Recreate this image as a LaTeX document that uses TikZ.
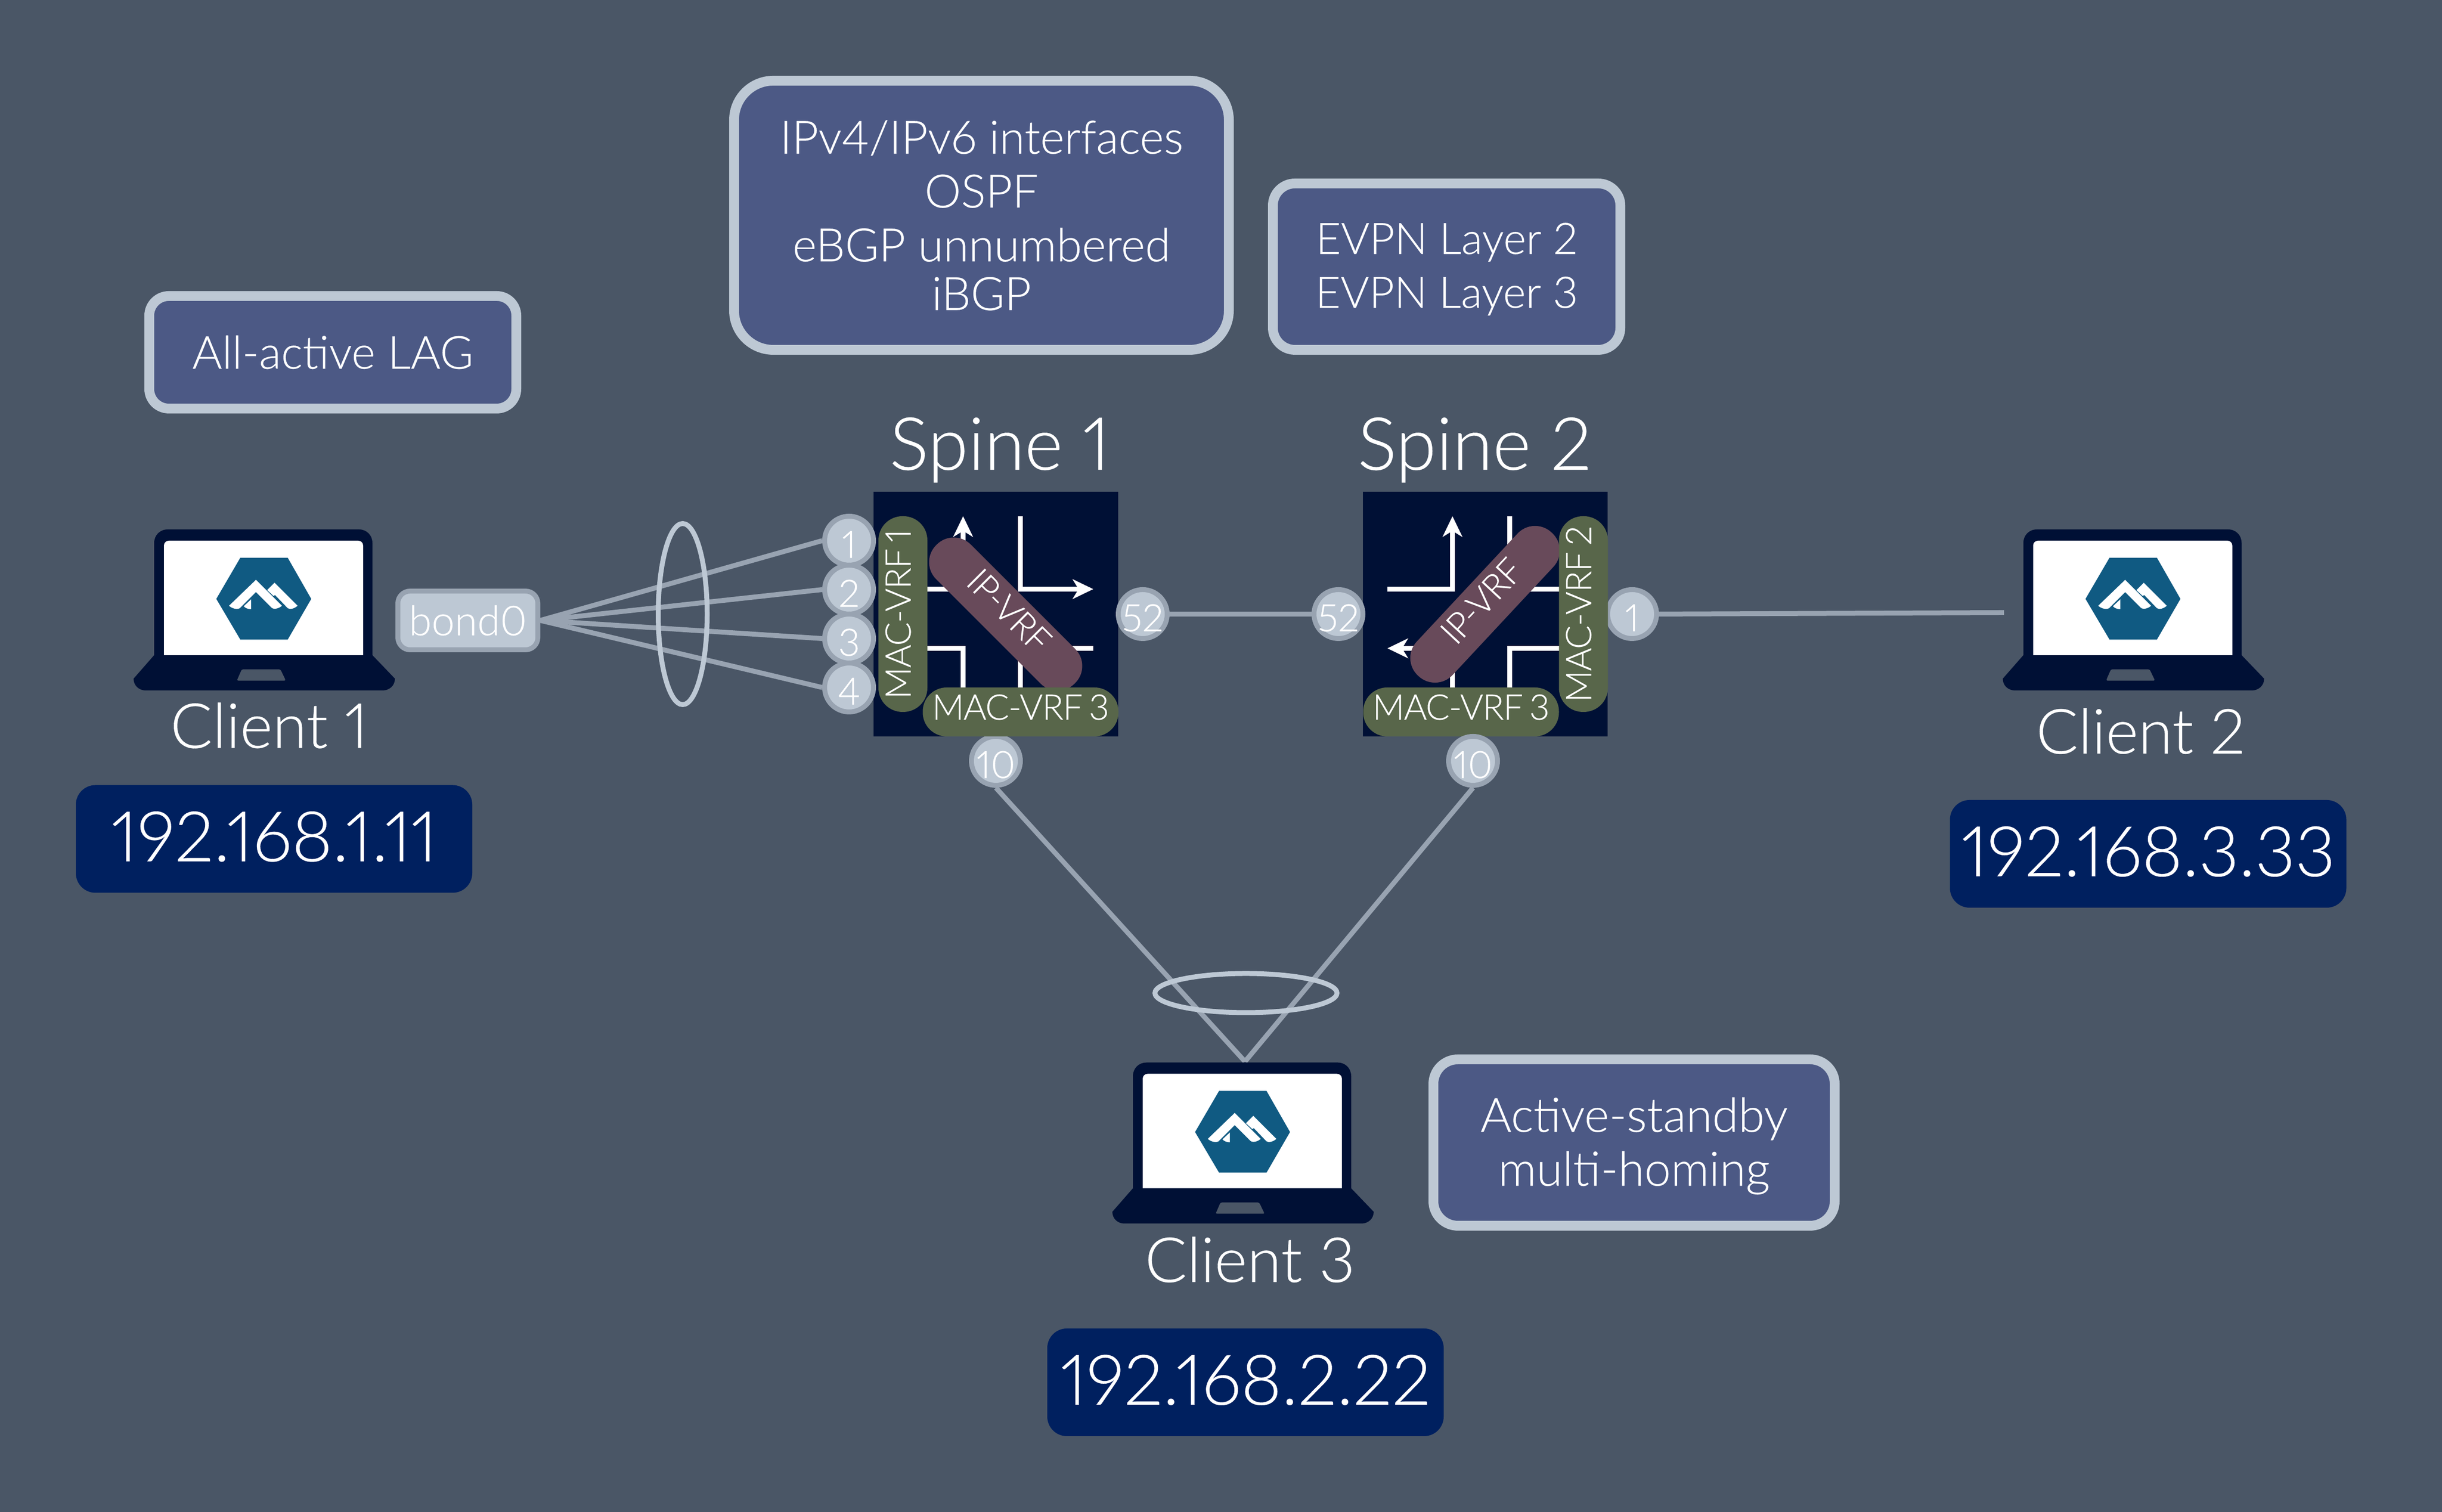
\documentclass[tikz,border=0pt]{standalone}
\usepackage{fontspec}
\setmainfont{Lato Light}[Numbers=Proportional, FakeBold=.25, AutoFakeBold=.25]
\newfontfamily\tightfont{Lato Light}[Numbers=Proportional, LetterSpace=-2, WordSpace=.7, FakeBold=.25]
\usetikzlibrary{arrows.meta, backgrounds}

\definecolor{slatebg}{HTML}{4A5666}
\definecolor{navybox}{HTML}{001035}
\definecolor{addrblue}{HTML}{00205F}
\definecolor{notefill}{HTML}{4C5985}
\definecolor{palegrey}{HTML}{BDC8D4}
\definecolor{midgrey}{HTML}{98A3B1}
\definecolor{vrfgreen}{HTML}{58664A}
\definecolor{vrfplum}{HTML}{684A5A}
\definecolor{hexblue}{HTML}{105A82}

\tikzstyle{spinebox} = [rectangle, minimum size=5cm, inner sep=0, fill=navybox]
\tikzstyle{macvrf} = [rectangle, rounded corners=.49cm, minimum width=4cm, minimum height=1cm, inner sep=0, fill=vrfgreen, text=white, text depth=5.7pt, font=\tightfont\fontsize{20.5}{24}\selectfont]
\tikzstyle{ipvrf} = [macvrf, fill=vrfplum]
\tikzstyle{port} = [circle, minimum size=1cm, inner sep=-4pt, line width=1mm, draw=midgrey, fill=palegrey, text=white, text height=20pt, text depth=0pt, font=\fontsize{22}{24}\selectfont]
\tikzstyle{bondbox} = [rectangle, rounded corners=.25cm, minimum width=2.86cm, minimum height=1.2cm, inner sep=0, line width=1mm, draw=midgrey, fill=palegrey, text=white, font=\fontsize{24}{28}\selectfont]
\tikzstyle{note} = [rectangle, line width=2mm, draw=palegrey, fill=notefill, text=white, align=center]
\tikzstyle{addr} = [rectangle, rounded corners=.4cm, minimum width=8.1cm, minimum height=2.2cm, inner sep=0, fill=addrblue, text=white, text depth=3pt, font=\fontsize{40.5}{48}\selectfont]
\tikzstyle{devname} = [anchor=base, text=white, font=\fontsize{36.2}{40}\selectfont]
\tikzstyle{spinename} = [anchor=base, text=white, font=\fontsize{42.5}{50}\selectfont]
\tikzstyle{arrow} = [-{Stealth[length=4.2mm, width=4mm, inset=1.2mm]}, line width=1mm, white]
\tikzstyle{line} = [line width=1mm, white]
\tikzstyle{link} = [line width=1mm, midgrey]
\tikzstyle{lag} = [line width=1mm, palegrey]

\tikzset{pics/laptop/.style={code={
    \fill [navybox] (-2.245, -1.15) -- (-2.245, 1.14) .. controls (-2.245, 1.3) and (-2.13, 1.42) .. (-1.965, 1.42)
        -- (1.935, 1.42) .. controls (2.1, 1.42) and (2.215, 1.3) .. (2.215, 1.14) -- (2.215, -1.15)
        -- (2.675, -1.63) .. controls (2.675, -1.78) and (2.55, -1.87) .. (2.43, -1.87)
        -- (-2.42, -1.87) .. controls (-2.545, -1.87) and (-2.665, -1.78) .. (-2.665, -1.63) -- cycle;
    \fill [white] (-2.045, -1.15) [rounded corners=1mm] -- (-2.045, 1.19) -- (2.025, 1.19) [sharp corners] -- (2.025, -1.15) -- cycle;
    \fill [slatebg, rounded corners=.3mm] (-.455, -1.44) -- (.335, -1.44) -- (.445, -1.67) -- (-.555, -1.67) -- cycle;
    \fill [hexblue] (-.975, 0) -- (-.485, .84) -- (.485, .84) -- (.965, 0) -- (.485, -.83) -- (-.485, -.83) -- cycle;
    \fill [white] (-.165, .39) -- (-.715, -.14) .. controls (-.65, -.2) and (-.55, -.22) .. (-.495, -.19) -- (-.165, .14) -- (.155, -.18)
        .. controls (.2, -.22) and (.3, -.2) .. (.365, -.14) -- cycle;
    \fill [white] (.215, .33) -- (.065, .18) -- (.195, .06) -- (.225, .08) -- (.485, -.19)
        .. controls (.53, -.22) and (.62, -.2) .. (.685, -.14) -- cycle;
    \fill [white] (-.265, -.01) -- (-.265, -.21) .. controls (-.32, -.21) and (-.38, -.19) .. (-.415, -.15) -- cycle;
    \coordinate (-top) at (.045, 1.44);
    \coordinate (-left) at (-2.64, -.28);
}}}

\begin{document}
\begin{tikzpicture}

    \begin{pgfonlayer}{background}
        \fill [slatebg] (0, 0) rectangle (49.9, 30.9);
    \end{pgfonlayer}
    \path [use as bounding box] (0, 0) rectangle (49.9, 30.9);

    % ports that sit behind the boxes
    \node (s1p10) [port] at (20.35, 15.35) {10};
    \node (s2p1) [port] at (33.35, 18.35) {1};

    % spine 1
    \node (spine1) [spinebox] at (20.35, 18.35) {};
    \draw [arrow] (18.35, 18.86) -| (19.68, 20.35);
    \draw [arrow] (20.85, 20.35) |- (22.34, 18.86);
    \draw [line] (18.35, 17.65) -| (19.68, 16.35);
    \draw [line] (22.34, 17.65) -| (20.85, 16.35);
    \node (ip1) [ipvrf, rotate=-45] at (20.55, 18.35) {IP-VRF};
    \node (mac1) [macvrf, rotate=90] at (18.45, 18.35) {MAC-VRF 1};
    \node (mac31) [macvrf] at (20.855, 16.35) {MAC-VRF 3\hspace{3pt}};

    % spine 2
    \node (spine2) [spinebox] at (30.35, 18.35) {};
    \draw [arrow] (28.35, 18.86) -| (29.68, 20.35);
    \draw [line] (30.85, 20.35) |- (32.34, 18.86);
    \draw [arrow] (29.68, 16.35) |- (28.35, 17.65);
    \draw [line] (32.34, 17.65) -| (30.85, 16.35);
    \node (ip2) [ipvrf, rotate=47] at (30.345, 18.55) {IP-VRF};
    \node (mac2) [macvrf, rotate=90] at (32.355, 18.35) {MAC-VRF 2};
    \node (mac32) [macvrf] at (29.855, 16.35) {MAC-VRF 3\hspace{3pt}};

    \node at (20.43, 21.3) [spinename] (name1) {Spine 1};
    \node at (30.13, 21.3) [spinename] (name2) {Spine 2};

    % ports
    \node (s1p1) [port] at (17.35, 19.85) {1};
    \node (s1p2) [port] at (17.35, 18.85) {2};
    \node (s1p3) [port] at (17.35, 17.85) {3};
    \node (s1p4) [port] at (17.35, 16.85) {4};
    \node (s1p52) [port] at (23.35, 18.35) {52};
    \node (s2p52) [port] at (27.35, 18.35) {52};
    \node (s2p10) [port] at (30.1, 15.35) {10};

    % clients
    \pic (client1) at (5.395, 18.66) {laptop};
    \pic (client2) at (43.59, 18.66) {laptop};
    \pic (client3) at (25.395, 7.765) {laptop};

    \node at (5.5, 15.615) [devname] (name3) {Client 1};
    \node at (43.74, 15.5) [devname] (name4) {Client 2};
    \node at (25.54, 4.7) [devname] (name5) {Client 3};

    \node (addr1) [addr] at (5.6, 13.755) {192.168.1.11};
    \node (addr2) [addr] at (43.895, 13.45) {192.168.3.33};
    \node (addr3) [addr] at (25.45, 2.65) {192.168.2.22};

    \node (bond0) [bondbox] at (9.56, 18.22) {bond0};

    % notes
    \node (lagnote) [note, font=\fontsize{26.5}{31.3}\selectfont, rounded corners=.4cm, minimum width=7.5cm, minimum height=2.3cm] at (6.8, 23.7) {All-active LAG};
    \node (routenote) [note, font=\fontsize{26.8}{31.3}\selectfont, rounded corners=.8cm, minimum width=10.11cm, minimum height=5.5cm] at (20.055, 26.5) {IPv4/IPv6 interfaces\\OSPF\\eBGP unnumbered\\[-3pt]iBGP};
    \node (evpnnote) [note, font=\fontsize{25.3}{31.3}\selectfont, rounded corners=.45cm, minimum width=7.1cm, minimum height=3.4cm] at (29.56, 25.45) {\rule{0pt}{21pt}EVPN Layer 2\\EVPN Layer 3};
    \node (standbynote) [note, font=\fontsize{27.6}{31.3}\selectfont, rounded corners=.5cm, minimum width=8.2cm, minimum height=3.4cm] at (33.39, 7.55) {\rule{0pt}{24pt}Active-standby\\multi-homing};

    % connectors
    \begin{pgfonlayer}{background}
        \draw [link] (bond0.east) -- (s1p1.west);
        \draw [link] (bond0.east) -- (s1p2.west);
        \draw [link] (bond0.east) -- (s1p3.west);
        \draw [link] (bond0.east) -- (s1p4.west);
        \draw [link] (s1p52.east) -- (s2p52.west);
        \draw [link] (s2p1.east) -- (client2-left);
        \draw [link] (s1p10.south) -- (client3-top);
        \draw [link] (s2p10.south) -- (client3-top);
    \end{pgfonlayer}

    \draw [lag] (13.95, 18.35) ellipse (.5 and 1.85);
    \draw [lag] (25.46, 10.605) ellipse (1.86 and .4);

\end{tikzpicture}
\end{document}
